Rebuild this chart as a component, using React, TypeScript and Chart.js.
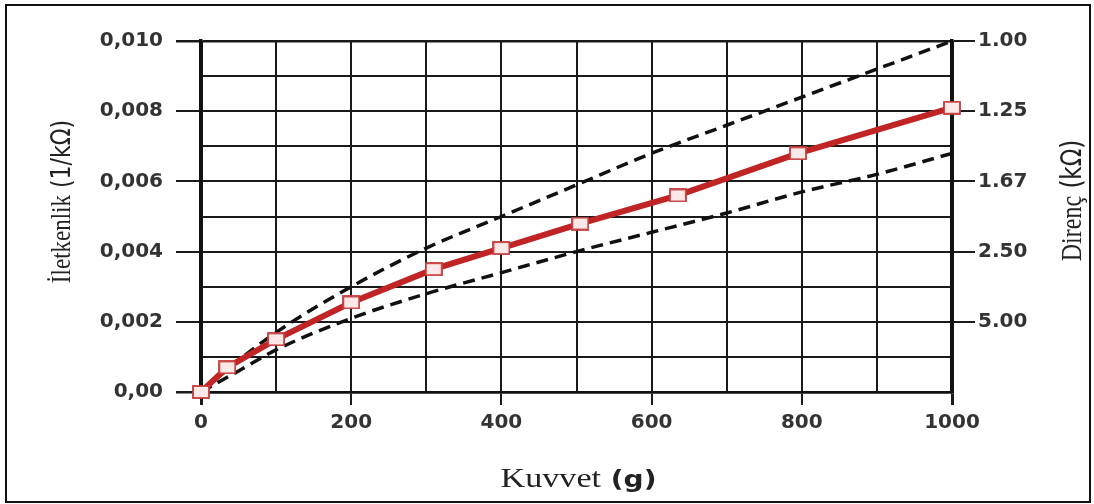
import React, { useEffect, useRef } from 'react';
import { Chart, registerables } from 'chart.js';

Chart.register(...registerables);

// Measured series (Kuvvet in g, İletkenlik in 1/kΩ)
const forceGrams = [0, 35, 100, 200, 310, 400, 505, 635, 795, 1000];
const conductance = [0, 0.0007, 0.0015, 0.00255, 0.0035, 0.0041, 0.0048, 0.0056, 0.0068, 0.0081];

// Dashed envelope curves
const boundForce = [0, 50, 100, 200, 300, 400, 500, 600, 700, 800, 900, 1000];
const upperBound = [0, 0.0009, 0.0017, 0.003, 0.0041, 0.005, 0.0059, 0.0068, 0.0076, 0.0084, 0.0092, 0.01];
const lowerBound = [0, 0.0006, 0.0012, 0.0021, 0.0028, 0.0034, 0.004, 0.00455, 0.0051, 0.0057, 0.0062, 0.0068];

// Tick labels
const xTickLabels = ['0', '', '200', '', '400', '', '600', '', '800', '', '1000'];
const leftTickLabels = ['0,00', '', '0,002', '', '0,004', '', '0,006', '', '0,008', '', '0,010'];
const rightTickLabels = ['', '', '5.00', '', '2.50', '', '1.67', '', '1.25', '', '1.00'];

const GRID = '#1a1a1a';
const AXIS = '#111111';
const TICK_FONT = { family: 'DejaVu Sans', size: 20, weight: 'bold' as const };
const TICK_COLOR = '#333333';

function makeMarker(): HTMLCanvasElement {
  const c = document.createElement('canvas');
  c.width = 18;
  c.height = 14;
  const g = c.getContext('2d')!;
  g.fillStyle = '#fde8e8';
  g.fillRect(1, 1, 16, 12);
  g.strokeStyle = '#c43a3a';
  g.lineWidth = 1.8;
  g.strokeRect(1, 1, 16, 12);
  return c;
}

type Part = { text: string; font: string };

function drawParts(ctx: CanvasRenderingContext2D, parts: Part[]) {
  let total = 0;
  const widths = parts.map((p) => {
    ctx.font = p.font;
    const w = ctx.measureText(p.text).width;
    total += w;
    return w;
  });
  let x = -total / 2;
  ctx.textAlign = 'left';
  ctx.textBaseline = 'alphabetic';
  parts.forEach((p, i) => {
    ctx.font = p.font;
    ctx.fillText(p.text, x, 0);
    x += widths[i];
  });
}

const decorPlugin = {
  id: 'decor',
  afterDraw(chart: any) {
    const ctx: CanvasRenderingContext2D = chart.ctx;
    const area = chart.chartArea;
    ctx.save();
    // outer frame
    ctx.strokeStyle = '#111';
    ctx.lineWidth = 2;
    ctx.strokeRect(6, 5, 1084, 497);

    ctx.fillStyle = '#222';
    // x title
    ctx.save();
    ctx.translate((area.left + area.right) / 2 + 2, area.bottom + 95);
    ctx.scale(1.22, 1);
    drawParts(ctx, [
      { text: 'Kuvvet', font: '28px "Liberation Serif"' },
      { text: ' (g)', font: '600 23px "DejaVu Sans"' },
    ]);
    ctx.restore();

    // left title
    ctx.save();
    ctx.translate(70, (area.top + area.bottom) / 2 - 15);
    ctx.rotate(-Math.PI / 2);
    ctx.scale(1, 1.2);
    drawParts(ctx, [
      { text: 'İletkenlik', font: '23px "Liberation Serif"' },
      { text: ' (1/kΩ)', font: '22px "DejaVu Sans"' },
    ]);
    ctx.restore();

    // right title
    ctx.save();
    ctx.translate(1081, (area.top + area.bottom) / 2 - 16);
    ctx.rotate(-Math.PI / 2);
    ctx.scale(1, 1.2);
    drawParts(ctx, [
      { text: 'Direnç', font: '24px "Liberation Serif"' },
      { text: ' (kΩ)', font: '23px "DejaVu Sans"' },
    ]);
    ctx.restore();

    ctx.restore();
  },
};

export default function App() {
  const ref = useRef<HTMLCanvasElement | null>(null);

  useEffect(() => {
    if (!ref.current) return;
    const marker = makeMarker();
    const chart = new Chart(ref.current, {
      type: 'line',
      data: {
        datasets: [
          {
            label: 'İletkenlik',
            data: forceGrams.map((x, i) => ({ x, y: conductance[i] })),
            borderColor: '#c02424',
            borderWidth: 6,
            pointStyle: marker as any,
            pointRadius: 8,
            tension: 0,
            clip: false as any,
          },
          {
            label: 'Üst sınır',
            data: boundForce.map((x, i) => ({ x, y: upperBound[i] })),
            borderColor: '#111',
            borderWidth: 3.5,
            borderDash: [12, 7],
            pointRadius: 0,
            cubicInterpolationMode: 'monotone',
          },
          {
            label: 'Alt sınır',
            data: boundForce.map((x, i) => ({ x, y: lowerBound[i] })),
            borderColor: '#111',
            borderWidth: 3.5,
            borderDash: [12, 7],
            pointRadius: 0,
            cubicInterpolationMode: 'monotone',
          },
        ],
      },
      options: {
        responsive: false,
        maintainAspectRatio: false,
        animation: false,
        layout: { padding: { top: 41, left: 0, right: 0, bottom: 0 } },
        plugins: { legend: { display: false }, tooltip: { enabled: false } },
        scales: {
          x: {
            type: 'linear',
            min: 0,
            max: 1000,
            afterFit: (s: any) => {
              s.height = 112;
            },
            ticks: {
              stepSize: 100,
              autoSkip: false,
              maxRotation: 0,
              callback: (_v: any, i: number) => xTickLabels[i] ?? '',
              font: TICK_FONT,
              color: TICK_COLOR,
              padding: 6,
            },
            grid: {
              color: GRID,
              lineWidth: (c: any) => (c.index === 0 || c.index === 10 ? 3 : 2),
              tickLength: 13,
              tickWidth: (c: any) => (c.index === 0 || c.index === 10 ? 3 : 2),
              tickColor: (c: any) => (xTickLabels[c.index] ? GRID : 'rgba(0,0,0,0)'),
            },
            border: { display: true, color: AXIS, width: 2.5 },
          },
          y: {
            position: 'left',
            min: 0,
            max: 0.01,
            afterFit: (s: any) => {
              s.width = 201;
            },
            ticks: {
              stepSize: 0.001,
              autoSkip: false,
              callback: (_v: any, i: number) => leftTickLabels[i] ?? '',
              font: TICK_FONT,
              color: TICK_COLOR,
              padding: 13,
            },
            grid: {
              color: GRID,
              lineWidth: (c: any) => (c.index === 0 || c.index === 10 ? 2.5 : 2),
              tickLength: 25,
              tickWidth: (c: any) => (c.index === 0 || c.index === 10 ? 2.5 : 2),
              tickColor: (c: any) => (leftTickLabels[c.index] ? GRID : 'rgba(0,0,0,0)'),
            },
            border: { display: true, color: AXIS, width: 3.5 },
          },
          y2: {
            position: 'right',
            min: 0,
            max: 0.01,
            afterFit: (s: any) => {
              s.width = 142;
            },
            ticks: {
              stepSize: 0.001,
              autoSkip: false,
              callback: (_v: any, i: number) => rightTickLabels[i] ?? '',
              font: TICK_FONT,
              color: TICK_COLOR,
              padding: 3,
            },
            grid: {
              drawOnChartArea: false,
              color: GRID,
              lineWidth: 2,
              tickLength: 23,
              tickColor: (c: any) => (rightTickLabels[c.index] ? GRID : 'rgba(0,0,0,0)'),
            },
            border: { display: true, color: AXIS, width: 3.5 },
          },
        },
      } as any,
      plugins: [decorPlugin],
    });
    return () => chart.destroy();
  }, []);

  return (
    <div style={{ position: 'absolute', left: 0, top: 0, width: 1094, height: 504, background: '#fff' }}>
      <canvas ref={ref} width={1094} height={504} style={{ width: 1094, height: 504, display: 'block' }} />
    </div>
  );
}
